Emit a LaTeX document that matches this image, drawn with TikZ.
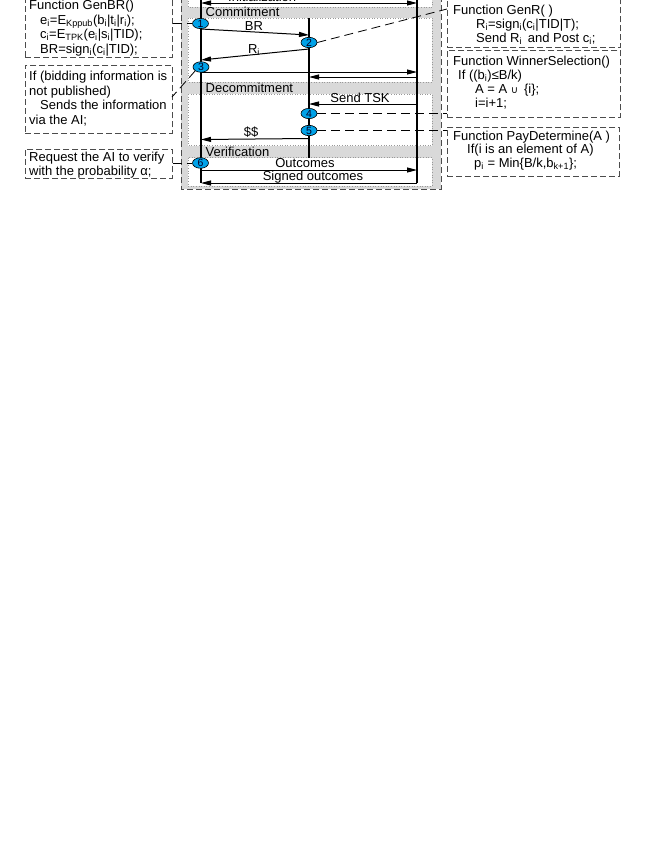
\documentclass[tikz,border=0pt]{standalone}
\usepackage{fontspec}
\setmainfont{Liberation Sans}
\newfontfamily\dejavu{DejaVu Sans}
\usetikzlibrary{arrows.meta,shapes.geometric}
\definecolor{numblue}{RGB}{0,162,232}
\newcommand{\sbx}[1]{\textsubscript{#1}}
\begin{document}
\begin{tikzpicture}[x=1pt,y=-1pt,
  txt/.style={anchor=base west, inner sep=0pt, font=\fontsize{13}{15}\selectfont},
  lbl/.style={anchor=base, inner sep=0pt, font=\fontsize{13}{15}\selectfont},
  fbox/.style={draw=black!70, dash pattern=on 6pt off 3pt, line width=0.9pt, inner sep=0pt, anchor=north west},
  panel/.style={draw=black!40, fill=white, dotted, line width=0.6pt},
  life/.style={line width=1.2pt},
  msg/.style={line width=1pt, -{Triangle[length=10pt,width=5pt]}},
  msgb/.style={line width=1pt, {Triangle[length=10pt,width=5pt]}-{Triangle[length=10pt,width=5pt]}},
  conn/.style={dash pattern=on 9pt off 5pt, line width=0.8pt},
  num/.style={ellipse, draw=black, line width=0.6pt, fill=numblue, minimum width=16pt, minimum height=9.5pt, inner sep=0pt, font=\fontsize{10.5}{10.5}\selectfont, text=black!85!blue}
]
\useasboundingbox (0,0) rectangle (656,849);

% central gray frame and phase panels
\draw[draw=black!70, dash pattern=on 6pt off 3pt, line width=0.9pt, fill=gray!30] (181,-12) rectangle (441,189);
\draw[panel] (188,-20) rectangle (432,7);
\draw[panel] (188,18) rectangle (432,82);
\draw[panel] (188,94) rectangle (432,145.5);
\draw[panel] (188,157.5) rectangle (432,186);

\node[txt] (linit) at (228,1) {Initialization};
\node[txt] (lcommit) at (205.5,16.5) {Commitment};
\node[txt] (ldecommit) at (205.5,92.5) {Decommitment};
\node[txt] (lverif) at (205.5,156) {Verification};

% lifelines
\coordinate (Ltop) at (201,-20); \coordinate (Lbot) at (201,183);
\coordinate (Mtop) at (309,18);  \coordinate (Mbot) at (309,157.5);
\coordinate (Rtop) at (417,-20); \coordinate (Rbot) at (417,183);
\draw[life] (Ltop) -- (Lbot);
\draw[life] (Mtop) -- (Mbot);
\draw[life] (Rtop) -- (Rbot);

% message end points
\coordinate (i1) at (201,3);   \coordinate (i2) at (417,3);
\coordinate (br1) at (201,29); \coordinate (br2) at (309,35);
\coordinate (ri1) at (309,49); \coordinate (ri2) at (201,60);
\coordinate (a1) at (201,72);  \coordinate (a2) at (417,72);
\coordinate (b1) at (417,77);  \coordinate (b2) at (309,77);
\coordinate (t1) at (417,104); \coordinate (t2) at (309,104);
\coordinate (d1) at (309,138.5); \coordinate (d2) at (201,139.5);
\coordinate (o1) at (201,170); \coordinate (o2) at (417,170);
\coordinate (s1) at (417,183); \coordinate (s2) at (201,183);

\draw[msgb] (i1) -- (i2);
\draw[msg] (br1) -- (br2);
\draw[msg] (ri1) -- (ri2);
\draw[msg] (a1) -- (a2);
\draw[msg] (b1) -- (b2);
\draw[msg] (t1) -- (t2);
\draw[msg] (d1) -- (d2);
\draw[msg] (o1) -- (o2);
\draw[msg] (s1) -- (s2);

\node[lbl] (lbr) at (254,30) {BR};
\node[lbl] (lri) at (254,53) {R\sbx{i}};
\node[lbl] (ltsk) at (360,102.5) {Send TSK};
\node[lbl] (lpay) at (251,136) {\$\$};
\node[lbl] (lout) at (305,167.5) {Outcomes};
\node[lbl] (lsig) at (313,180.5) {Signed outcomes};

% step markers
\node[num] (n1) at (200.5,23.5) {1};
\node[num] (n2) at (309,42.5) {2};
\node[num] (n3) at (201,67) {3};
\node[num] (n4) at (309,113.5) {4};
\node[num] (n5) at (309,130.5) {5};
\node[num] (n6) at (200.5,163) {6};

% side boxes
\node[fbox, minimum width=147pt, minimum height=72pt] (genbr) at (25,-15) {};
\node[fbox, minimum width=147pt, minimum height=68pt] (ifbox) at (25,65) {};
\node[fbox, minimum width=147pt, minimum height=29pt] (req) at (25,149) {};
\node[fbox, minimum width=173pt, minimum height=57pt] (genr) at (447,-10) {};
\node[fbox, minimum width=173pt, minimum height=67pt] (winner) at (447,50) {};
\node[fbox, minimum width=172pt, minimum height=49pt] (pay) at (447,127) {};

% dashed connectors
\coordinate (genrIn) at (447,9);
\coordinate (ifIn) at (172,97);
\draw[conn] (genbr.east |- n1) -- (n1.west);
\draw[conn] (n2.east) -- (genrIn);
\draw[conn] (n3.south west) -- (ifIn);
\draw[conn] (n4.east) -- (winner.west |- n4);
\draw[conn] (n5.east) -- (pay.west |- n5);
\draw[conn] (req.east |- n6) -- (n6.west);

% box texts
\node[txt] (g1) at (29,9) {Function GenBR()};
\node[txt] (g2) at (40,24) {e\sbx{i}=E\sbx{Kppub}(b\sbx{i}|t\sbx{i}|r\sbx{i});};
\node[txt] (g3) at (40,38.5) {c\sbx{i}=E\sbx{TPK}(e\sbx{i}|s\sbx{i}|TID);};
\node[txt] (g4) at (40,53) {BR=sign\sbx{i}(c\sbx{i}|TID);};

\node[txt] (f1) at (29,80.5) {If (bidding information is};
\node[txt] (f2) at (29,95) {not published)};
\node[txt] (f3) at (40,109.5) {Sends the information};
\node[txt] (f4) at (29,124) {via the AI;};

\node[txt] (q1) at (29,161) {Request the AI to verify};
\node[txt] (q2) at (29,175.5) {with the probability α;};

\node[txt] (r1) at (453,14) {Function GenR( )};
\node[txt] (r2) at (476,28) {R\sbx{i}=sign\sbx{i}(c\sbx{i}|TID|T);};
\node[txt] (r3) at (476,42) {Send R\sbx{i}\, and Post c\sbx{i};};

\node[txt] (w1) at (453,65.5) {Function WinnerSelection()};
\node[txt] (w2) at (458,79.5) {If ((b\sbx{i})≤B/k)};
\node[txt] (w3) at (475,93.5) {A = A {\dejavu\fontsize{10}{12}\selectfont ∪}\, \{i\};};
\node[txt] (w4) at (475,107.5) {i=i+1;};

\node[txt] (p1) at (453,140) {Function PayDetermine(A )};
\node[txt] (p2) at (467,153.5) {If(i is an element of A)};
\node[txt] (p3) at (474,167.5) {p\sbx{i} = Min\{B/k,b\sbx{k+1}\};};
\end{tikzpicture}
\end{document}
